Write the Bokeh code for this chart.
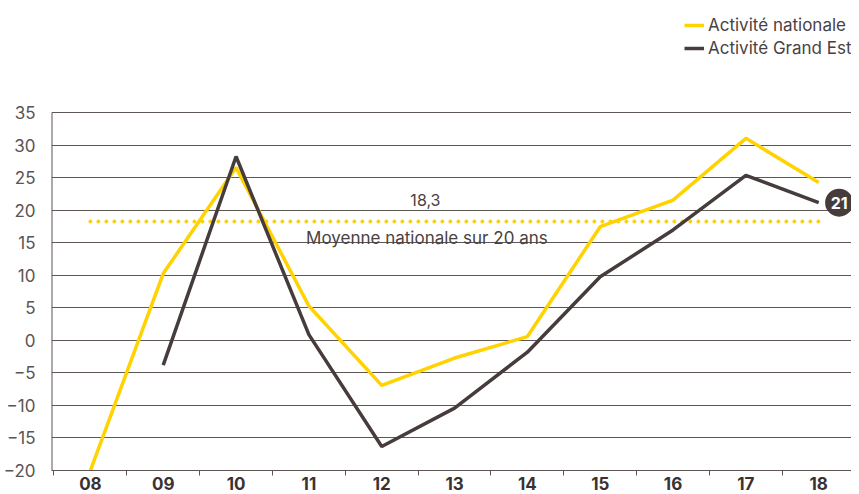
from bokeh.plotting import figure
from bokeh.models import FixedTicker, Legend, LegendItem, Range1d, ColumnDataSource
from bokeh.core.properties import value
from bokeh.embed import file_html
from bokeh.resources import INLINE
import numpy as np

years = ["08", "09", "10", "11", "12", "13", "14", "15", "16", "17", "18"]
national = [-20.0, 10.3, 26.6, 5.3, -6.9, -2.7, 0.6, 17.5, 21.6, 31.1, 24.3]
grand_est = [np.nan, -3.8, 28.3, 0.9, -16.3, -10.4, -1.8, 9.8, 17.0, 25.4, 21.2]
average = 18.3
average_label = "18,3"
average_caption = "Moyenne nationale sur 20 ans"
badge_label = "21"
y_ticks = [-20, -15, -10, -5, 0, 5, 10, 15, 20, 25, 30, 35]

YELLOW = "#FFD200"
DARK = "#463C3C"
TEXT = "#4A4242"
FONT = "Inter"

xs = list(range(len(years)))
n = len(years)

p = figure(width=851, height=492, output_backend="svg", toolbar_location=None,
           x_range=Range1d(-0.534, n - 1 + 0.45), y_range=Range1d(-20, 52.3),
           min_border_left=40, min_border_right=0, min_border_top=0, min_border_bottom=0)
p.outline_line_color = None
p.background_fill_color = "white"
p.border_fill_color = "white"

# axes
p.xgrid.grid_line_color = None
p.ygrid.ticker = FixedTicker(ticks=y_ticks)
p.ygrid.grid_line_color = "#5E5555"
p.ygrid.grid_line_width = 1

p.yaxis.ticker = FixedTicker(ticks=y_ticks)
p.yaxis.axis_line_color = None
p.yaxis.major_tick_line_color = None
p.yaxis.minor_tick_line_color = None
p.yaxis.major_label_standoff = 10
p.yaxis.major_label_text_font = FONT
p.yaxis.major_label_text_font_size = "17px"
p.yaxis.major_label_text_font_style = "normal"
p.yaxis.major_label_text_color = "#5A5454"

p.xaxis.ticker = FixedTicker(ticks=xs, minor_ticks=[i + 0.5 for i in range(-1, n)])
p.xaxis.major_label_overrides = {i: y for i, y in enumerate(years)}
p.xaxis.axis_line_color = "#5E5555"
p.xaxis.major_tick_line_color = None
p.xaxis.minor_tick_line_color = "#5E5555"
p.xaxis.minor_tick_out = 5
p.xaxis.minor_tick_in = 0
p.xaxis.major_label_standoff = 0
p.xaxis.major_label_text_font = FONT
p.xaxis.major_label_text_font_style = "bold"
p.xaxis.major_label_text_font_size = "17px"
p.xaxis.major_label_text_color = "#3A3232"

# left axis line limited to the tick range
p.segment(x0=[-0.534], y0=[y_ticks[0]], x1=[-0.534], y1=[y_ticks[-1]],
          line_color="#5E5555", line_width=2)

# average line
p.line(x=[xs[0], xs[-1]], y=[average, average], line_color=YELLOW, line_width=4,
       line_dash="0 8", line_cap="round")
p.text(x=[4.60], y=[average], text=[average_label], text_align="center",
       text_baseline="middle", y_offset=-22, text_font=value(FONT),
       text_font_size="16px", text_color=TEXT)
p.text(x=[4.62], y=[average], text=[average_caption], text_align="center",
       text_baseline="middle", y_offset=16, text_font=value(FONT),
       text_font_size="17px", text_color=TEXT)

src = ColumnDataSource(dict(x=xs, nat=national, ge=grand_est))
r_nat = p.line("x", "nat", source=src, line_color=YELLOW, line_width=3.5)
r_ge = p.line("x", "ge", source=src, line_color=DARK, line_width=3.5)

# badge
p.scatter(x=[n - 1 + 0.28], y=[grand_est[-1]], size=28, marker="circle",
          fill_color=DARK, line_color=None)
p.text(x=[n - 1 + 0.28], y=[grand_est[-1]], text=[badge_label], text_align="center",
       text_baseline="middle", text_font=value(FONT), text_font_style="bold",
       text_font_size="16px", text_color="white")

legend = Legend(items=[LegendItem(label="Activité nationale", renderers=[r_nat]),
                       LegendItem(label="Activité Grand Est", renderers=[r_ge])],
                location=(633, 412))
legend.margin = 0
legend.padding = 2
legend.border_line_color = None
legend.background_fill_alpha = 0
legend.label_text_font = FONT
legend.label_text_font_size = "17px"
legend.label_text_color = TEXT
legend.glyph_width = 20
legend.label_standoff = 4
legend.spacing = 3
legend.label_height = 20
legend.glyph_height = 20
p.add_layout(legend, "center")

open("out.html", "w").write(file_html(p, INLINE))
